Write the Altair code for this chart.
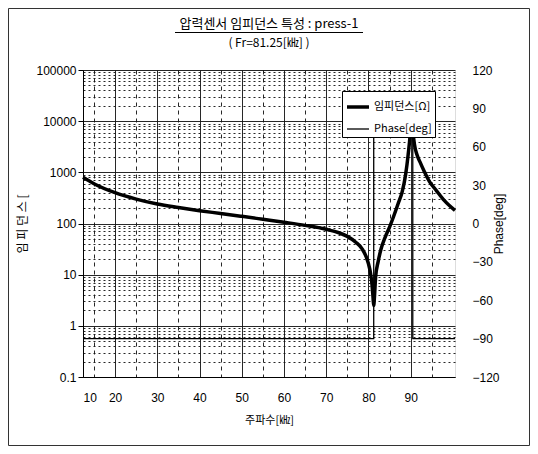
import altair as alt
import pandas as pd

# ---- data ----
freq_imp = [12.4, 15, 20, 25, 30, 35, 40, 45, 50, 55, 60, 65, 70, 73, 75, 77, 78.5, 79.5,
            80.3, 80.8, 81.1, 81.25, 81.45, 81.7, 82.3, 83, 84, 85, 86, 87, 88, 88.8,
            89.4, 89.9, 90.2, 90.5, 90.9, 91.5, 92.2, 93.2, 94.5, 96, 98, 100.5]
imp_ohm = [800, 600, 400, 300, 240, 205, 178, 157, 138, 121, 106, 92, 77, 66, 56, 43, 32, 22,
           13, 7, 3.5, 2.5, 4, 9, 18, 32, 55, 85, 140, 240, 420, 900,
           2200, 6000, 20000, 7000, 3500, 2200, 1600, 1050, 650, 450, 280, 180]
freq_phase = [12.4, 81.25, 81.25, 90.5, 90.5, 100.5]
phase_deg = [-90, -90, 90, 90, -90, -90]
series_names = ["임피던스[Ω]", "Phase[deg]"]
x_ticks = [12.4, 15, 20, 25, 30, 35, 40, 45, 50, 55, 60, 65, 70, 75, 80, 85, 90, 95]
y_ticks = [m * 10.0 ** e for e in range(-1, 5) for m in range(1, 10)] + [100000]
phase_ticks = [-120, -90, -60, -30, 0, 30, 60, 90, 120]
title_main = ["압력센서 임피던스 특성 : press-1"]
title_sub = ["( Fr=81.25[㎑] )"]

imp_df = pd.DataFrame({"f": freq_imp, "v": imp_ohm, "series": series_names[0],
                       "o": list(range(len(freq_imp)))})
ph_df = pd.DataFrame({"f": freq_phase, "v": phase_deg, "series": series_names[1],
                      "o": list(range(len(freq_phase)))})

NUM_FONT = "Liberation Sans Narrow, Liberation Sans, Arial"
KR_FONT = "Noto Sans CJK KR"

x_scale = alt.Scale(domain=[12.4, 100.5], nice=False, zero=False)
x_axis = alt.Axis(
    values=x_ticks,
    labelExpr="datum.value < 13 ? '10' : (datum.value % 10 == 0 ? format(datum.value, 'd') : '')",
    gridDash={"condition": {"test": "datum.value % 10 != 0", "value": [4, 4]}, "value": []},
    grid=True, gridColor="#111", gridOpacity=0.9, ticks=False, labelPadding=15,
    labelFont=NUM_FONT, labelFontSize=12, labelColor="black",
    title="주파수[㎑]", titleFont=KR_FONT, titleFontSize=11, titleFontWeight="normal",
    titlePadding=11, titleColor="black", domainColor="black",
)

is_dec = "abs(log(datum.value)/LN10 - round(log(datum.value)/LN10)) < 0.001"
y_axis = alt.Axis(
    values=y_ticks, format="~g",
    labelExpr=f"({is_dec}) ? datum.label : ''",
    grid=True,
    gridDash={"condition": {"test": f"!({is_dec})", "value": [2, 3]}, "value": []},
    gridColor="#111", gridOpacity=0.9,
    tickOpacity={"condition": {"test": f"!({is_dec})", "value": 0}, "value": 1},
    tickSize=5, tickColor="black", labelPadding=2,
    labelFont=NUM_FONT, labelFontSize=12, labelColor="black",
    title="임 피 던 스 [", titleFont=KR_FONT, titleFontSize=12, titleFontWeight="normal",
    titlePadding=6, titleColor="black", domainColor="black",
)
ph_axis = alt.Axis(
    values=phase_ticks, grid=False, ticks=False, labelPadding=17,
    labelFont=NUM_FONT, labelFontSize=12, labelColor="black",
    title="Phase[deg]", titleFont=NUM_FONT, titleFontSize=12, titleFontWeight="normal",
    titleAngle=270, titlePadding=6, titleColor="black", domain=False,
)

legend = alt.Legend(
    title=None, orient="none", legendX=259, legendY=21,
    symbolType="stroke", symbolSize=484, labelFont=KR_FONT, labelFontSize=11,
    labelColor="black", strokeColor="black", fillColor="white", padding=3,
    rowPadding=3, labelOffset=3,
)
color = alt.Color("series:N", scale=alt.Scale(domain=series_names, range=["black", "black"]),
                  legend=legend)
width_enc = alt.StrokeWidth("series:N",
                            scale=alt.Scale(domain=series_names, range=[3.5, 1.3]),
                            legend=legend)

imp_line = alt.Chart(imp_df).mark_line(interpolate="monotone").encode(
    x=alt.X("f:Q", scale=x_scale, axis=x_axis),
    y=alt.Y("v:Q", scale=alt.Scale(type="log", domain=[0.1, 100000], nice=False), axis=y_axis),
    order="o:Q", color=color, strokeWidth=width_enc,
)
ph_line = alt.Chart(ph_df).mark_line().encode(
    x=alt.X("f:Q", scale=x_scale, axis=x_axis),
    y=alt.Y("v:Q", scale=alt.Scale(domain=[-120, 120], nice=False), axis=ph_axis),
    order="o:Q", color=color, strokeWidth=width_enc,
)

one = pd.DataFrame({"a": [0]})
frame = alt.Chart(one).mark_rect(
    fill=None, stroke="#333", strokeWidth=1
).encode(x=alt.value(-74.5), x2=alt.value(446.5), y=alt.value(-61.5), y2=alt.value(375.5))

t1 = alt.Chart(pd.DataFrame({"t": title_main})).mark_text(
    font=KR_FONT, fontSize=13, color="black", align="center", baseline="middle"
).encode(text="t:N", x=alt.value(186), y=alt.value(-46))
t1_line = alt.Chart(one).mark_rule(color="black", strokeWidth=1).encode(
    x=alt.value(92), x2=alt.value(280), y=alt.value(-37.5))
t2 = alt.Chart(pd.DataFrame({"t": title_sub})).mark_text(
    font=KR_FONT, fontSize=12, color="black", align="center", baseline="middle"
).encode(text="t:N", x=alt.value(186), y=alt.value(-27))

chart = alt.layer(imp_line, ph_line, frame, t1, t1_line, t2).resolve_scale(
    y="independent"
).properties(
    width=372, height=307,
    autosize=alt.AutoSizeParams(type="none"),
    padding={"left": 75, "top": 62, "right": 75, "bottom": 69},
).configure_view(stroke="black", strokeWidth=1).configure(background="white")

chart.save("out.html", embed_options={"renderer": "svg", "actions": False})
